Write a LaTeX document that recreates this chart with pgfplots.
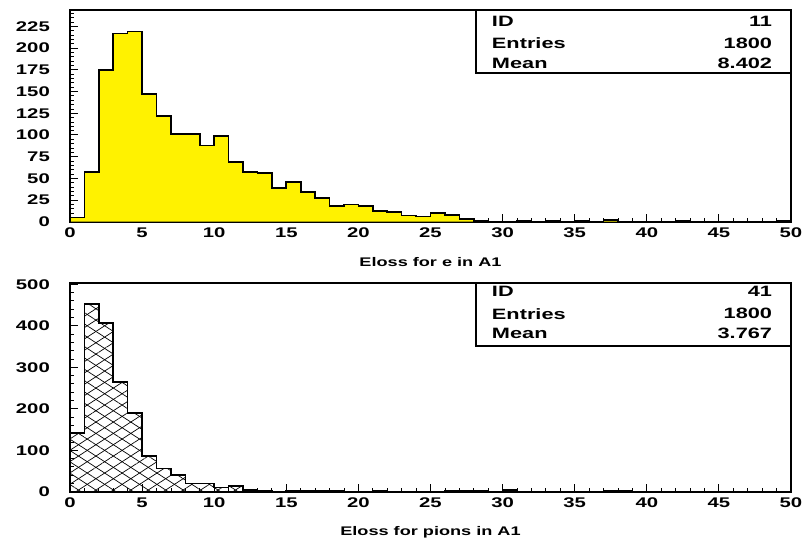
\documentclass[border=0pt]{standalone}
\usepackage{fontspec}
\setmainfont{Liberation Sans}[FakeStretch=1.45, BoldFeatures={FakeStretch=1.45}]
\usepackage{pgfplots}
\pgfplotsset{compat=1.18}
\usetikzlibrary{patterns.meta}
\tikzset{statfont/.style={font=\bfseries\fontsize{15}{15}\selectfont, inner sep=0pt}}
\pgfplotsset{
  pawaxis/.style={
    scale only axis, width=721pt,
    xmin=0, xmax=50,
    axis line style={line width=1.6pt},
    tick align=inside,
    xtick pos=bottom, ytick pos=left,
    xtick distance=5, minor x tick num=4,
    major tick length=8pt, minor tick length=4pt,
    every tick/.style={black, line width=0.8pt},
    every major tick/.append style={line width=0.9pt},
    /pgf/number format/assume math mode=true,
    tick label style={font=\bfseries\fontsize{14}{14}\selectfont},
    xticklabel style={inner sep=0pt, yshift=-5.5pt},
    yticklabel style={inner sep=0pt, xshift=-20pt},
    xlabel style={font=\bfseries\fontsize{12.5}{13}\selectfont, at={(axis description cs:0.5,0)}, anchor=center, yshift=-40.5pt},
    clip=false,
  },
}
\begin{document}
\begin{tikzpicture}
\path[use as bounding box] (0,0) rectangle (807pt,-541pt);
% ---------------- top histogram ----------------
\begin{axis}[pawaxis, at={(70pt,-10pt)}, anchor=north west,
  height=211.7pt, ymin=0, ymax=244,
  ytick distance=25, minor y tick num=4,
  xlabel={Eloss for e in A1}]
\addplot[const plot, fill=yellow, draw=black, line width=1.6pt] coordinates {
(0,0)(0,5)(1,57)(2,175)(3,217)(4,219)(5,147)(6,122)(7,101)(8,101)(9,88)
(10,99)(11,69)(12,57)(13,56)(14,39)(15,46)(16,34)(17,27)(18,18)(19,20)
(20,18)(21,12)(22,11)(23,7)(24,6)(25,10)(26,8)(27,3)(28,1)(29,0)
(30,0)(31,1)(32,0)(33,1)(34,0)(35,1)(36,0)(37,2)(38,0)(39,0)
(40,0)(41,0)(42,1)(43,0)(44,0)(45,0)(46,0)(47,0)(48,0)(49,1)(50,1)(50,0)};
\draw[line width=1.2pt] (rel axis cs:0.563,0.702) rectangle (rel axis cs:1,1);
\node[statfont, anchor=west] at (rel axis cs:0.585,0.947) {ID};
\node[statfont, anchor=east] at (rel axis cs:0.974,0.947) {11};
\node[statfont, anchor=west] at (rel axis cs:0.585,0.843) {Entries};
\node[statfont, anchor=east] at (rel axis cs:0.974,0.843) {1800};
\node[statfont, anchor=west] at (rel axis cs:0.585,0.748) {Mean};
\node[statfont, anchor=east] at (rel axis cs:0.974,0.748) {8.402};
\end{axis}
% ---------------- bottom histogram ----------------
\begin{axis}[pawaxis, at={(70pt,-283pt)}, anchor=north west,
  height=208.7pt, ymin=0, ymax=503,
  ytick={0,100,200,300,400,500}, minor y tick num=4,
  xlabel={Eloss for pions in A1}]
\addplot[const plot, draw=none, pattern={Lines[angle=33,distance=9.5pt,line width=0.7pt]}, pattern color=black] coordinates {
(0,0)(0,142)(1,453)(2,407)(3,265)(4,189)(5,86)(6,56)(7,40)(8,20)(9,20)
(10,10)(11,14)(12,4)(13,2)(14,0)(15,2)(16,2)(17,2)(18,1)(19,0)
(20,0)(21,1)(22,0)(23,0)(24,0)(25,0)(26,1)(27,1)(28,1)(29,0)
(30,4)(31,0)(32,0)(33,0)(34,0)(35,0)(36,0)(37,1)(38,1)(39,0)
(40,0)(41,0)(42,0)(43,0)(44,0)(45,0)(46,0)(47,0)(48,0)(49,0)(50,0)(50,0)};
\addplot[const plot, draw=black, line width=1.6pt, pattern={Lines[angle=-33,distance=9.5pt,line width=0.7pt]}, pattern color=black] coordinates {
(0,0)(0,142)(1,453)(2,407)(3,265)(4,189)(5,86)(6,56)(7,40)(8,20)(9,20)
(10,10)(11,14)(12,4)(13,2)(14,0)(15,2)(16,2)(17,2)(18,1)(19,0)
(20,0)(21,1)(22,0)(23,0)(24,0)(25,0)(26,1)(27,1)(28,1)(29,0)
(30,4)(31,0)(32,0)(33,0)(34,0)(35,0)(36,0)(37,1)(38,1)(39,0)
(40,0)(41,0)(42,0)(43,0)(44,0)(45,0)(46,0)(47,0)(48,0)(49,0)(50,0)(50,0)};
\draw[line width=1.2pt] (rel axis cs:0.563,0.698) rectangle (rel axis cs:1,1);
\node[statfont, anchor=west] at (rel axis cs:0.585,0.959) {ID};
\node[statfont, anchor=east] at (rel axis cs:0.974,0.959) {41};
\node[statfont, anchor=west] at (rel axis cs:0.585,0.853) {Entries};
\node[statfont, anchor=east] at (rel axis cs:0.974,0.853) {1800};
\node[statfont, anchor=west] at (rel axis cs:0.585,0.757) {Mean};
\node[statfont, anchor=east] at (rel axis cs:0.974,0.757) {3.767};
\end{axis}
\end{tikzpicture}
\end{document}
